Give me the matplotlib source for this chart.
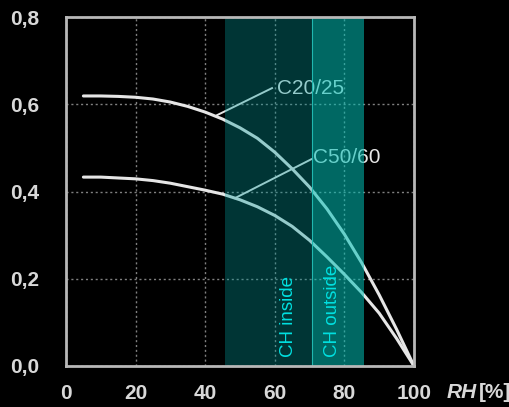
import numpy as np
import matplotlib
matplotlib.use("Agg")
import matplotlib.pyplot as plt

plt.rcParams['font.family'] = ['Liberation Sans', 'DejaVu Sans']

# relative humidity [%] and the two curves
rh = [5, 10, 15, 20, 25, 30, 35, 40, 45, 50, 55, 60, 65, 70, 75, 80, 85, 90, 95, 100]
c20_25 = [0.619, 0.619, 0.618, 0.616, 0.612, 0.605, 0.595, 0.582, 0.566, 0.546,
          0.522, 0.490, 0.452, 0.410, 0.360, 0.302, 0.236, 0.163, 0.084, 0.0]
c50_60 = [0.433, 0.433, 0.431, 0.429, 0.425, 0.419, 0.411, 0.403, 0.394, 0.381,
          0.365, 0.345, 0.320, 0.288, 0.250, 0.210, 0.168, 0.121, 0.063, 0.0]

# climate bands (RH ranges)
band_inside = (45.7, 70.7)
band_outside = (70.7, 85.6)

x_ticks = [0, 20, 40, 60, 80, 100]
y_ticks = [0.0, 0.2, 0.4, 0.6, 0.8]
y_labels = ["0,0", "0,2", "0,4", "0,6", "0,8"]

fig = plt.figure(figsize=(5.1, 4.07), dpi=100, facecolor='black')
ax = fig.add_axes([66 / 510, 41 / 407, 348 / 510, 349 / 407])
ax.set_facecolor('black')

curve_col = '#e6e6e6'
ax.plot(rh, c20_25, color=curve_col, lw=2.2, zorder=3, solid_capstyle='round')
ax.plot(rh, c50_60, color=curve_col, lw=2.2, zorder=3, solid_capstyle='round')

# leader lines + labels (drawn below the bands so they get tinted)
ax.plot([43.4, 59.2], [0.575, 0.637], color=curve_col, lw=1.4, zorder=3)
ax.plot([48.6, 70.5], [0.385, 0.474], color=curve_col, lw=1.4, zorder=3)
ax.text(60.6, 0.637, "C20/25", color=curve_col, fontsize=15, va='center', ha='left', zorder=3)
ax.text(71.0, 0.479, "C50/60", color=curve_col, fontsize=15, va='center', ha='left', zorder=3)

ax.axvspan(*band_inside, color=(0, 0.6, 0.6), alpha=0.35, lw=0, zorder=4)
ax.axvspan(*band_outside, facecolor=(0, 0.75, 0.71), alpha=0.55, lw=0, zorder=4)
ax.axvline(band_outside[0], color='#20b8b0', lw=0.8, zorder=4)

ax.text(64.0, 0.02, "CH inside", color='#00e0e0', fontsize=13.5, rotation=90,
        ha='center', va='bottom', zorder=5)
ax.text(76.7, 0.02, "CH outside", color='#00e0e0', fontsize=13.5, rotation=90,
        ha='center', va='bottom', zorder=5)

ax.set_xlim(0, 100)
ax.set_ylim(0, 0.8)
ax.set_xticks(x_ticks)
ax.set_yticks(y_ticks)
ax.set_yticklabels(y_labels)
ax.grid(True, color='#808080', lw=1, linestyle=(0, (1.5, 2)), zorder=1)
ax.set_axisbelow(True)

ax.tick_params(axis='both', length=0, colors='#d8d8d8', labelsize=15)
ax.tick_params(axis='x', pad=13)
ax.tick_params(axis='y', pad=19)
for lab in ax.get_xticklabels() + ax.get_yticklabels():
    lab.set_fontweight('bold')

for sp in ax.spines.values():
    sp.set_color('#b8b8b8')
    sp.set_linewidth(2)
    sp.set_zorder(6)

fig.text(447 / 510, 1 - 392 / 407, "RH", color='#d8d8d8', fontsize=15,
         style='italic', fontweight='bold', va='center', ha='left')
fig.text(479 / 510, 1 - 392 / 407, "[%]", color='#d8d8d8', fontsize=15,
         fontweight='bold', va='center', ha='left')

fig.savefig("out.png", dpi=100, facecolor='black')
